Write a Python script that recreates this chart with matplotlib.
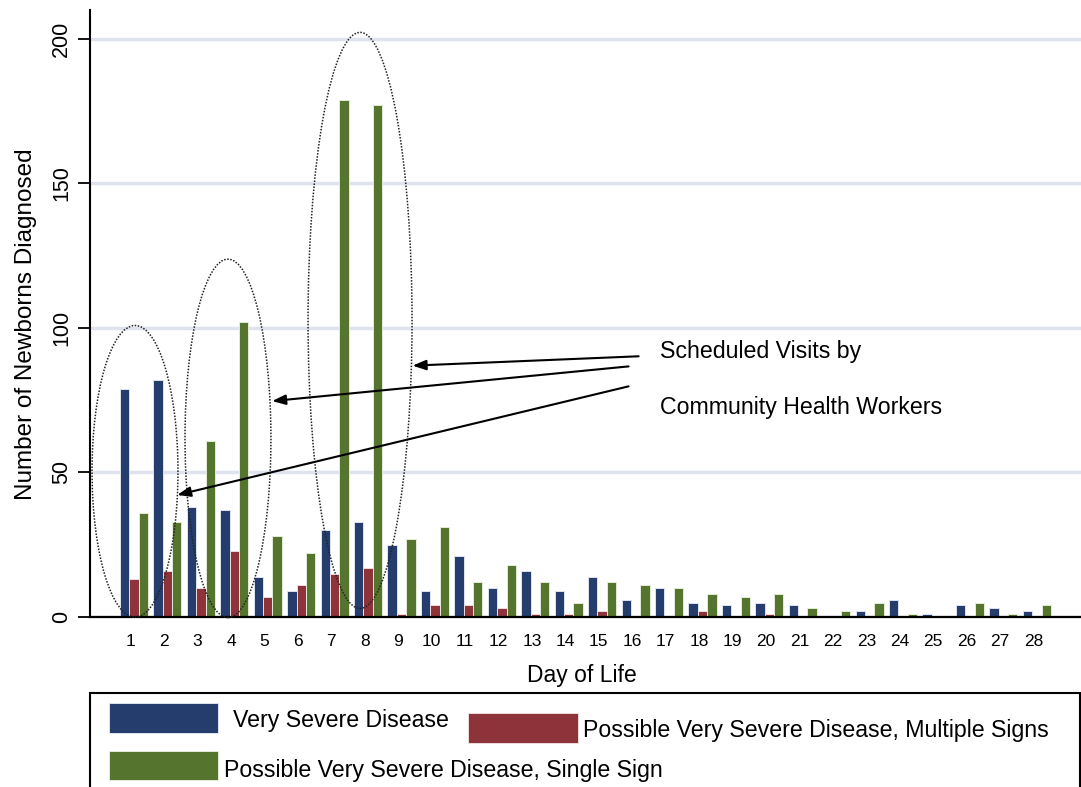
import numpy as np
import matplotlib
matplotlib.use('Agg')
import matplotlib.pyplot as plt
from matplotlib.patches import Ellipse, Rectangle

plt.rcParams['font.family'] = ['Liberation Sans', 'DejaVu Sans']

# Datos
days = list(range(1, 29))
very_severe = [79, 82, 38, 37, 14, 9, 30, 33, 25, 9, 21, 10, 16, 9, 14, 6, 10, 5, 4, 5, 4, 0, 2, 6, 1, 4, 3, 2]
multiple_signs = [13, 16, 10, 23, 7, 11, 15, 17, 1, 4, 4, 3, 1, 1, 2, 0, 0, 2, 0, 1, 0, 0, 0, 0, 0, 0, 0, 0]
single_sign = [36, 33, 61, 102, 28, 22, 179, 177, 27, 31, 12, 18, 12, 5, 12, 11, 10, 8, 7, 8, 3, 2, 5, 1, 0, 5, 1, 4]
series_labels = ['Very Severe Disease',
                 'Possible Very Severe Disease, Multiple Signs',
                 'Possible Very Severe Disease, Single Sign']

c_blue = '#253d6d'
c_red = '#8f333b'
c_green = '#55752f'

W, H = 1081, 787
fig = plt.figure(figsize=(W / 100, H / 100), dpi=100)
ax = fig.add_axes([90 / W, 1 - 617 / H, (W - 90) / W, 607 / H])

x = np.array(days)
bw = 0.28
ax.bar(x - bw, very_severe, bw, color=c_blue, edgecolor='#dde3ee', linewidth=0.7, zorder=3)
ax.bar(x, multiple_signs, bw, color=c_red, edgecolor='#eedddd', linewidth=0.7, zorder=3)
ax.bar(x + bw, single_sign, bw, color=c_green, edgecolor='#e3ecd8', linewidth=0.7, zorder=3)

ax.set_xlim(-0.316, 29.32)
ax.set_ylim(0, 210)

# Ejes y rejilla
for s in ['top', 'right', 'bottom']:
    ax.spines[s].set_visible(False)
ax.spines['left'].set_linewidth(1.5)
ax.axhline(0, color='black', linewidth=1.6, zorder=4, clip_on=False)
ax.set_yticks([0, 50, 100, 150, 200])
ax.yaxis.grid(True, color='#dfe3ef', linewidth=2.5, zorder=0)
ax.tick_params(axis='y', length=9, width=1.3, direction='out', labelsize=15.5, pad=4)
for lab in ax.get_yticklabels():
    lab.set_rotation(90)
    lab.set_va('center')
ax.set_xticks(x - 0.1)
ax.set_xticklabels([str(d) for d in days])
ax.tick_params(axis='x', length=0, labelsize=12.5, pad=12)

ax.set_ylabel('Number of Newborns Diagnosed', fontsize=17.5)
ax.yaxis.set_label_coords(-0.053, 0.483)
ax.set_xlabel('Day of Life', fontsize=16.5)
ax.xaxis.set_label_coords(0.4965, -0.077)

# Elipses punteadas
for cx, cy, w, h in [(1.03, 50.4, 2.57, 100.9), (3.81, 61.8, 2.57, 124), (7.76, 102.6, 3.11, 199.3)]:
    ax.add_patch(Ellipse((cx, cy), w, h, fill=False, linestyle=(0, (1, 1)),
                         linewidth=1.1, edgecolor='#222222', zorder=5, clip_on=False))

# Flechas y texto
arrow = dict(arrowstyle='-|>,head_length=0.8,head_width=0.3', color='black', linewidth=1.5, shrinkA=0, shrinkB=0)
ax.annotate('', xy=(9.33, 86.96), xytext=(16.09, 90.2), arrowprops=arrow, zorder=6)
ax.annotate('', xy=(5.13, 74.7), xytext=(15.79, 86.7), arrowprops=arrow, zorder=6)
ax.annotate('', xy=(2.29, 42.2), xytext=(15.79, 79.8), arrowprops=arrow, zorder=6)
ax.text(16.73, 91.7, 'Scheduled Visits by', fontsize=16.7, va='center', ha='left')
ax.text(16.73, 72.5, 'Community Health Workers', fontsize=16.7, va='center', ha='left')

# Leyenda manual
def px_rect(x0, y0, x1, y1, **kw):
    fig.add_artist(Rectangle((x0 / W, 1 - y1 / H), (x1 - x0) / W, (y1 - y0) / H,
                             transform=fig.transFigure, **kw))

px_rect(90, 693, 1080, 800, fill=False, edgecolor='black', linewidth=1.5, clip_on=False)
px_rect(109, 703, 218, 733, facecolor=c_blue, edgecolor='#dde3ee', linewidth=0.7)
px_rect(468, 713, 578, 743, facecolor=c_red, edgecolor='#eedddd', linewidth=0.7)
px_rect(109, 751, 218, 780, facecolor=c_green, edgecolor='#e3ecd8', linewidth=0.7)
fig.text(233 / W, 1 - 721 / H, series_labels[0], fontsize=16.7, va='center', ha='left')
fig.text(583 / W, 1 - 731 / H, series_labels[1], fontsize=16.7, va='center', ha='left')
fig.text(224 / W, 1 - 770 / H, series_labels[2], fontsize=16.7, va='center', ha='left')

fig.savefig('out.png', dpi=100)
